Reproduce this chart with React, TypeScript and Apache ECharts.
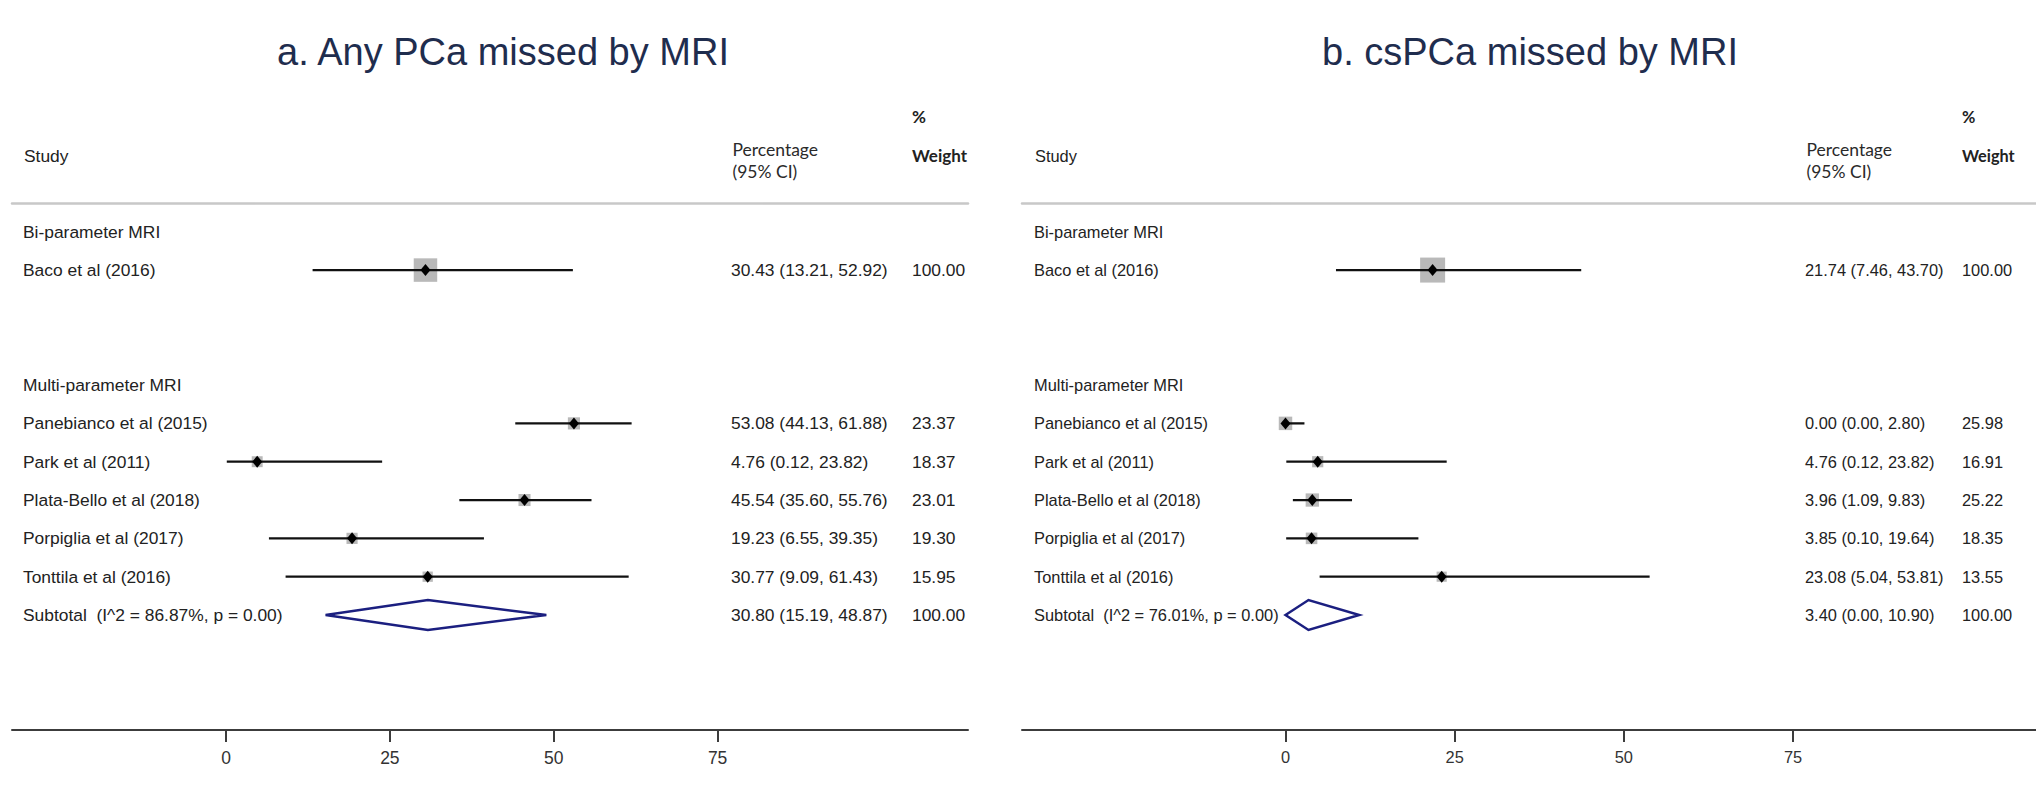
import React, { useEffect, useRef } from "react";
import * as echarts from "echarts";

// ---------- data ----------
const titles = ["a. Any PCa missed by MRI", "b. csPCa missed by MRI"];
const groupLabels = ["Bi-parameter MRI", "Multi-parameter MRI"];
const studyNames = [
  "Baco et al (2016)",
  "Panebianco et al (2015)",
  "Park et al (2011)",
  "Plata-Bello et al (2018)",
  "Porpiglia et al (2017)",
  "Tonttila et al (2016)",
];
const studyGroup = [0, 1, 1, 1, 1, 1];

// Panel a: any PCa
const estA = [30.43, 53.08, 4.76, 45.54, 19.23, 30.77];
const lowA = [13.21, 44.13, 0.12, 35.6, 6.55, 9.09];
const highA = [52.92, 61.88, 23.82, 55.76, 39.35, 61.43];
const weightA = [100.0, 23.37, 18.37, 23.01, 19.3, 15.95];
const pooledA = [30.8, 15.19, 48.87]; // estimate, low, high (multi-parameter subgroup)
const hetA = [86.87, 0.0]; // I^2, p
const pooledWeightA = 100.0;

// Panel b: csPCa
const estB = [21.74, 0.0, 4.76, 3.96, 3.85, 23.08];
const lowB = [7.46, 0.0, 0.12, 1.09, 0.1, 5.04];
const highB = [43.7, 2.8, 23.82, 9.83, 19.64, 53.81];
const weightB = [100.0, 25.98, 16.91, 25.22, 18.35, 13.55];
const pooledB = [3.4, 0.0, 10.9];
const hetB = [76.01, 0.0];
const pooledWeightB = 100.0;

const tickValues = [0, 25, 50, 75];
const headerStudy = "Study";
const headerPct = ["Percentage", "(95% CI)"];
const headerWeight = ["%", "Weight"];

// ---------- layout ----------
const GRID_TOP = 203;
const GRID_H = 527;
const Y_MIN = -0.75;
const Y_MAX = 13;
const BODY_FONT = "'Liberation Sans', Arial, sans-serif";
const HEAD_FONT = "Lato, 'Open Sans', sans-serif";

const panelLayout = [
  { left: 12, width: 956, zeroPx: 226, unitPx: 6.555, labelX: 23, valueX: 731, weightX: 912, titleX: 503, boxK: 2.2, fs: 17.4, tfs: 17.5, wfs: 17 },
  { left: 1022, width: 1014, zeroPx: 1285.5, unitPx: 6.767, labelX: 1034, valueX: 1805, weightX: 1962, titleX: 1530, boxK: 2.35, fs: 16.4, tfs: 16.4, wfs: 16.3 },
];

const panelData = [
  { est: estA, low: lowA, high: highA, weight: weightA, pooled: pooledA, het: hetA, pw: pooledWeightA },
  { est: estB, low: lowB, high: highB, weight: weightB, pooled: pooledB, het: hetB, pw: pooledWeightB },
];

const f2 = (v: number) => v.toFixed(2);

type Rec = {
  kind: "group" | "study" | "subtotal";
  row: number;
  label: string;
  est?: number;
  lo?: number;
  hi?: number;
  w?: number;
};

function buildRecords(p: number): Rec[] {
  const d = panelData[p];
  const recs: Rec[] = [];
  let row = 0;
  groupLabels.forEach((g, gi) => {
    recs.push({ kind: "group", row: row++, label: g });
    const idx = studyNames.map((_, i) => i).filter((i) => studyGroup[i] === gi);
    idx.forEach((i) => {
      recs.push({ kind: "study", row: row++, label: studyNames[i], est: d.est[i], lo: d.low[i], hi: d.high[i], w: d.weight[i] });
    });
    if (idx.length > 1) {
      recs.push({
        kind: "subtotal",
        row: row++,
        label: `Subtotal  (I^2 = ${f2(d.het[0])}%, p = ${f2(d.het[1])})`,
        est: d.pooled[0],
        lo: d.pooled[1],
        hi: d.pooled[2],
        w: d.pw,
      });
    }
    row += 2;
  });
  return recs;
}

function textEl(text: string, x: number, y: number, font: string, fill = "#222") {
  return {
    type: "text",
    x,
    y,
    style: { text, font, fill, align: "left", verticalAlign: "middle" },
  };
}

function buildOption() {
  const grids: any[] = [];
  const xAxes: any[] = [];
  const yAxes: any[] = [];
  const series: any[] = [];
  const graphics: any[] = [];

  panelLayout.forEach((L, p) => {
    const xmin = (L.left - L.zeroPx) / L.unitPx;
    const xmax = (L.left + L.width - L.zeroPx) / L.unitPx;
    grids.push({ left: L.left, top: GRID_TOP, width: L.width, height: GRID_H, containLabel: false });
    // bottom axis
    xAxes.push({
      type: "value",
      gridIndex: p,
      position: "bottom",
      min: xmin,
      max: xmax,
      splitLine: { show: false },
      axisLine: { show: true, onZero: false, lineStyle: { color: "#3c3c3c", width: 2 } },
      axisTick: { show: true, customValues: tickValues, length: 12, lineStyle: { color: "#3c3c3c", width: 2 } },
      axisLabel: {
        show: true,
        customValues: tickValues,
        margin: 19,
        fontSize: L.tfs,
        fontFamily: BODY_FONT,
        color: "#333",
      },
    });
    // top separator rule
    xAxes.push({
      type: "value",
      gridIndex: p,
      position: "top",
      min: xmin,
      max: xmax,
      splitLine: { show: false },
      axisLine: { show: true, onZero: false, lineStyle: { color: "#c8c8c8", width: 2.5 } },
      axisTick: { show: false },
      axisLabel: { show: false },
    });
    yAxes.push({ type: "value", gridIndex: p, inverse: true, min: Y_MIN, max: Y_MAX, show: false });

    const recs = buildRecords(p);
    const font = `${L.fs}px ${BODY_FONT}`;
    series.push({
      type: "custom",
      xAxisIndex: p * 2,
      yAxisIndex: p,
      clip: false,
      data: recs.map((r) => [r.est ?? 0, r.row]),
      renderItem: (params: any, api: any) => {
        const r = recs[params.dataIndex];
        const y = api.coord([0, r.row])[1];
        const children: any[] = [];
        if (r.kind === "study") {
          const c = api.coord([r.est, r.row]);
          const a = api.coord([r.lo, r.row]);
          const b = api.coord([r.hi, r.row]);
          const side = L.boxK * Math.sqrt(r.w as number) + 1.5;
          children.push({
            type: "rect",
            shape: { x: c[0] - side / 2, y: c[1] - side / 2, width: side, height: side },
            style: { fill: "#b9b9b9" },
          });
          children.push({
            type: "line",
            shape: { x1: a[0], y1: a[1], x2: b[0], y2: b[1] },
            style: { stroke: "#111", lineWidth: 2.3 },
          });
          children.push({
            type: "polygon",
            shape: { points: [[c[0] - 5, c[1]], [c[0], c[1] - 6], [c[0] + 5, c[1]], [c[0], c[1] + 6]] },
            style: { fill: "#000" },
          });
        }
        if (r.kind === "subtotal") {
          const pts = [
            api.coord([r.lo, r.row]),
            api.coord([r.est, r.row - 0.39]),
            api.coord([r.hi, r.row]),
            api.coord([r.est, r.row + 0.39]),
          ];
          children.push({
            type: "polygon",
            shape: { points: pts },
            style: { fill: "none", stroke: "#1b1f80", lineWidth: 2.5 },
          });
        }
        children.push(textEl(r.label, L.labelX, y, font));
        if (r.kind !== "group") {
          children.push(textEl(`${f2(r.est as number)} (${f2(r.lo as number)}, ${f2(r.hi as number)})`, L.valueX, y, font));
          children.push(textEl(f2(r.w as number), L.weightX, y, font));
        }
        return { type: "group", children };
      },
    });

    // titles and column headers
    graphics.push({
      type: "text",
      x: L.titleX,
      y: 52,
      style: { text: titles[p], font: `38px ${BODY_FONT}`, fill: "#1f2d4e", align: "center", verticalAlign: "middle" },
    });
    graphics.push(textEl(headerStudy, L.labelX + 1, 156, `${L.fs}px ${BODY_FONT}`));
    graphics.push(textEl(headerPct[0], L.valueX + 1.5, 149.3, `17.5px ${HEAD_FONT}`, "#2a2a2a"));
    graphics.push(textEl(headerPct[1], L.valueX + 1.5, 171.7, `17.5px ${HEAD_FONT}`, "#2a2a2a"));
    graphics.push(textEl(headerWeight[0], L.weightX, 116.7, `bold ${L.wfs}px ${HEAD_FONT}`, "#222"));
    graphics.push(textEl(headerWeight[1], L.weightX, 155.7, `bold ${L.wfs}px ${HEAD_FONT}`, "#222"));
  });

  return {
    animation: false,
    backgroundColor: "#ffffff",
    grid: grids,
    xAxis: xAxes,
    yAxis: yAxes,
    series,
    graphic: graphics,
  };
}

export default function App() {
  const ref = useRef<HTMLDivElement>(null);
  useEffect(() => {
    if (!ref.current) return;
    const chart = echarts.init(ref.current, undefined, { renderer: "svg" });
    chart.setOption(buildOption() as any);
    return () => chart.dispose();
  }, []);
  return (
    <div
      ref={ref}
      style={{ position: "absolute", left: 0, top: 0, width: 2036, height: 796, background: "#fff" }}
    />
  );
}
